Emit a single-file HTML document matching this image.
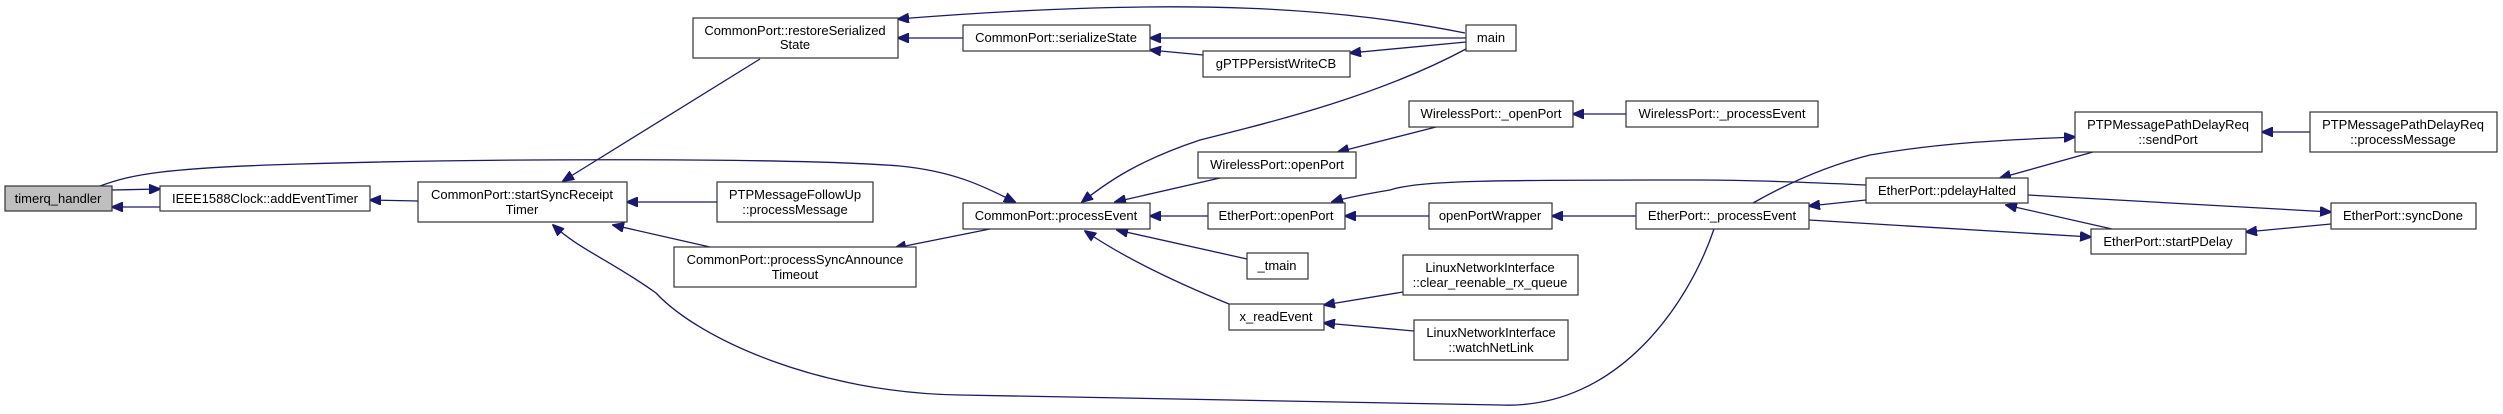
<!DOCTYPE html>
<html><head><meta charset="utf-8"><style>
html,body{margin:0;padding:0;background:#fff;}
svg{display:block;}
text{font-family:"Liberation Sans",sans-serif;font-size:13px;fill:#000;}
</style></head><body>
<svg width="2503" height="414" viewBox="0 0 2503 414" xmlns="http://www.w3.org/2000/svg">
<defs>
<marker id="a" markerWidth="12" markerHeight="10" refX="11" refY="5" orient="auto" markerUnits="userSpaceOnUse">
<path d="M0,0 L12,5 L0,10 Z" fill="#191970" stroke="#191970"/>
</marker>
</defs>
<g fill="none" stroke="#191970" stroke-width="1.3" marker-end="url(#a)">
<path d="M160,207 L112,207"/>
<path d="M112,190 L160,189"/>
<path d="M418,201 L370,200"/>
<path d="M760,59 L563,181"/>
<path d="M717,202 L627,202"/>
<path d="M710,247 L613,225"/>
<path d="M990,229 L895,248"/>
<path d="M1714,229 C1690,300 1620,410 1500,405 C1300,400 1100,398 960,395 C820,393 700,340 656,293 C610,260 580,250 553,225"/>
<path d="M100,186 C130,175 160,168 300,164 C500,158 800,158 900,166 C960,172 990,190 1015,202"/>
<path d="M1465,33 C1350,10 1200,-5 898,19"/>
<path d="M963,38 L898,38"/>
<path d="M1466,38 L1150,38"/>
<path d="M1203,55 L1150,50"/>
<path d="M1466,42 L1350,53"/>
<path d="M1466,49 C1380,95 1280,120 1200,140 C1140,160 1110,180 1082,202"/>
<path d="M1220,178 L1115,202"/>
<path d="M1436,127 L1338,152"/>
<path d="M1626,114 L1573,114"/>
<path d="M1208,216 L1150,216"/>
<path d="M1247,259 L1117,230"/>
<path d="M1229,304 C1170,280 1120,255 1085,231"/>
<path d="M1429,216 L1345,216"/>
<path d="M1636,216 L1552,216"/>
<path d="M1866,185 C1800,182 1750,180 1700,180 C1500,180 1420,180 1390,190 C1360,195 1345,198 1332,202"/>
<path d="M1403,292 L1324,305"/>
<path d="M1414,331 L1324,323"/>
<path d="M1866,200 L1809,206"/>
<path d="M1753,203 C1790,182 1830,165 1870,155 C1940,143 2000,140 2075,137"/>
<path d="M2093,152 L2000,178"/>
<path d="M1809,220 L2091,237"/>
<path d="M2112,229 L2006,205"/>
<path d="M2028,195 L2331,212"/>
<path d="M2331,224 L2246,232"/>
<path d="M2310,132 L2262,132"/>
</g>
<g stroke="#333" stroke-width="1.2" fill="#fff">
<rect x="5" y="186" width="107" height="25" fill="#bfbfbf"/>
<rect x="160" y="186" width="210" height="25"/>
<rect x="418" y="182" width="209" height="40"/>
<rect x="693" y="18" width="205" height="40"/>
<rect x="717" y="182" width="156" height="40"/>
<rect x="674" y="247" width="242" height="40"/>
<rect x="963" y="25" width="187" height="26"/>
<rect x="1466" y="25" width="50" height="26"/>
<rect x="1203" y="51" width="147" height="26"/>
<rect x="1409" y="101" width="164" height="26"/>
<rect x="1626" y="101" width="192" height="26"/>
<rect x="1198" y="152" width="158" height="26"/>
<rect x="963" y="203" width="187" height="26"/>
<rect x="1208" y="203" width="137" height="26"/>
<rect x="1429" y="203" width="123" height="26"/>
<rect x="1636" y="203" width="173" height="26"/>
<rect x="1247" y="253" width="61" height="26"/>
<rect x="1229" y="304" width="95" height="26"/>
<rect x="1403" y="255" width="175" height="40"/>
<rect x="1414" y="320" width="154" height="40"/>
<rect x="1866" y="178" width="162" height="25"/>
<rect x="2075" y="112" width="187" height="40"/>
<rect x="2310" y="112" width="187" height="40"/>
<rect x="2331" y="203" width="145" height="26"/>
<rect x="2091" y="229" width="155" height="25"/>
</g>
<g text-anchor="middle">
<text x="58" y="203">timerq_handler</text>
<text x="265" y="203">IEEE1588Clock::addEventTimer</text>
<text x="522" y="199">CommonPort::startSyncReceipt</text>
<text x="522" y="214">Timer</text>
<text x="795" y="35">CommonPort::restoreSerialized</text>
<text x="795" y="49">State</text>
<text x="795" y="199">PTPMessageFollowUp</text>
<text x="795" y="214">::processMessage</text>
<text x="795" y="264">CommonPort::processSyncAnnounce</text>
<text x="795" y="279">Timeout</text>
<text x="1056" y="42">CommonPort::serializeState</text>
<text x="1491" y="42">main</text>
<text x="1276" y="68">gPTPPersistWriteCB</text>
<text x="1491" y="118">WirelessPort::_openPort</text>
<text x="1722" y="118">WirelessPort::_processEvent</text>
<text x="1277" y="169">WirelessPort::openPort</text>
<text x="1056" y="220">CommonPort::processEvent</text>
<text x="1276" y="220">EtherPort::openPort</text>
<text x="1490" y="220">openPortWrapper</text>
<text x="1722" y="220">EtherPort::_processEvent</text>
<text x="1277" y="270">_tmain</text>
<text x="1276" y="321">x_readEvent</text>
<text x="1490" y="272">LinuxNetworkInterface</text>
<text x="1490" y="287">::clear_reenable_rx_queue</text>
<text x="1491" y="337">LinuxNetworkInterface</text>
<text x="1491" y="352">::watchNetLink</text>
<text x="1947" y="195">EtherPort::pdelayHalted</text>
<text x="2168" y="129">PTPMessagePathDelayReq</text>
<text x="2168" y="144">::sendPort</text>
<text x="2403" y="129">PTPMessagePathDelayReq</text>
<text x="2403" y="144">::processMessage</text>
<text x="2403" y="220">EtherPort::syncDone</text>
<text x="2168" y="246">EtherPort::startPDelay</text>
</g>
</svg>
</body></html>
